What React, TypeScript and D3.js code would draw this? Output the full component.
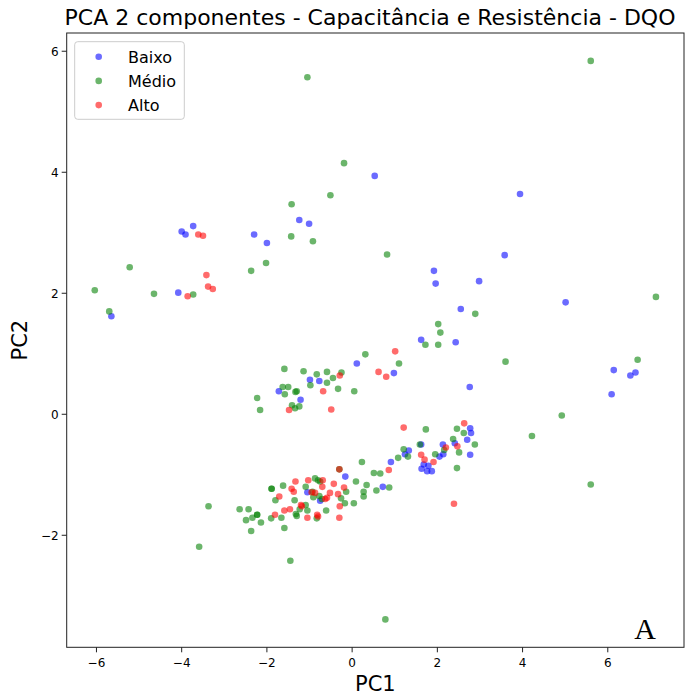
import React from "react";
import * as d3 from "d3";

const categories = ["Baixo", "Médio", "Alto"];
const colors = ["#0000ff", "#008000", "#ff0000"];

const baixo: [number, number][] = [
  [0.53, 3.94], [3.94, 3.64], [-1.24, 3.21], [-1.01, 3.15], [-3.73, 3.11], [-4.0, 3.02], [-3.91, 2.97],
  [-2.3, 2.97], [-2.0, 2.83], [-4.08, 2.01], [-5.65, 1.62], [3.58, 2.63], [1.92, 2.37], [1.96, 2.16],
  [2.98, 2.2], [5.01, 1.85], [2.55, 1.74], [1.62, 1.23], [2.43, 1.19], [0.98, 0.68], [6.14, 0.73],
  [6.53, 0.64], [6.65, 0.69], [6.09, 0.33], [2.76, 0.45], [0.11, 0.84], [-0.99, 0.57], [-0.77, 0.55],
  [-1.72, 0.38], [-1.21, 0.24], [2.77, -0.23], [2.79, -0.31], [2.7, -0.42], [2.41, -0.48], [2.77, -0.67],
  [2.13, -0.5], [2.14, -0.66], [2.05, -0.7], [1.62, -0.5], [1.68, -0.83], [1.79, -0.85], [1.63, -0.9],
  [1.76, -0.94], [1.87, -0.94], [1.24, -0.66], [1.33, -0.6], [-0.16, -1.03], [0.91, -0.79], [0.72, -1.2],
  [-1.05, -1.29], [-0.75, -1.43],
];

const medio: [number, number][] = [
  [-1.05, 5.57], [-0.19, 4.15], [-0.51, 3.62], [-1.42, 3.47], [-1.43, 2.94], [-0.92, 2.86], [5.6, 5.84],
  [-5.22, 2.43], [-2.37, 2.37], [-2.02, 2.5], [-6.04, 2.05], [-4.65, 1.99], [-3.73, 1.98], [-5.7, 1.7],
  [0.82, 2.64], [7.13, 1.94], [2.89, 1.66], [2.02, 1.49], [2.07, 1.35], [1.72, 1.15], [2.02, 1.15],
  [0.31, 0.99], [1.1, 0.84], [3.6, 0.87], [6.7, 0.9], [4.92, -0.02], [4.22, -0.36],
  [-1.59, 0.75], [-1.14, 0.71], [-0.83, 0.66], [-0.59, 0.7], [-0.25, 0.69], [-0.45, 0.6], [-0.59, 0.52],
  [-0.98, 0.48], [-0.33, 0.42], [0.05, 0.38], [-1.63, 0.45], [-1.5, 0.45], [-1.58, 0.33], [-1.33, 0.37],
  [-1.3, 0.38], [-1.41, 0.15], [-1.34, 0.1], [-1.24, 0.13], [-2.16, 0.07], [-2.23, 0.27],
  [1.73, -0.25], [2.46, -0.24], [2.62, -0.31], [2.88, -0.5], [2.37, -0.41], [2.51, -0.63], [2.46, -0.89],
  [2.16, -0.59], [1.95, -0.66], [1.59, -0.5], [1.21, -0.58], [1.31, -0.7], [1.08, -0.72],
  [-0.3, -0.91], [0.23, -0.79], [0.51, -0.97], [0.66, -0.98], [0.09, -1.11], [0.34, -1.17], [0.27, -1.28],
  [0.27, -1.36], [0.87, -1.21], [0.57, -1.26], [-0.14, -1.28], [-0.26, -1.39], [-0.17, -1.47], [0.04, -1.47],
  [-0.87, -1.06], [-0.8, -1.09], [-0.75, -1.11], [-1.62, -1.18], [-1.89, -1.23], [-1.89, -1.23],
  [-1.09, -1.2], [-0.93, -1.28], [-0.77, -1.35], [-0.71, -1.4], [-0.91, -1.37], [-1.8, -1.42],
  [-1.35, -1.42], [-1.09, -1.5], [-1.23, -1.57], [-1.05, -1.59], [-1.32, -1.65], [-1.3, -1.68],
  [-1.9, -1.72], [-1.66, -1.71], [-0.61, -1.59], [-0.83, -1.72], [-2.23, -1.66], [-2.23, -1.66],
  [-2.34, -1.71], [-2.14, -1.79], [-2.49, -1.75], [-2.43, -1.57], [-2.64, -1.57], [-2.37, -1.93],
  [-1.59, -1.88], [-3.37, -1.52], [-3.59, -2.19], [-1.45, -2.42], [5.6, -1.16], [0.78, -3.39],
];

const alto: [number, number][] = [
  [-3.61, 2.97], [-3.5, 2.95], [-3.42, 2.3], [-3.38, 2.11], [-3.27, 2.07], [-3.86, 1.95], [1.01, 1.04],
  [0.62, 0.7], [0.8, 0.62], [-0.29, 0.64], [-0.68, 0.38], [-1.48, 0.07], [-0.49, 0.08], [1.21, -0.22],
  [2.63, -0.15], [2.47, -0.53], [2.2, -0.55], [1.91, -0.79], [1.62, -0.67], [1.7, -0.75], [2.39, -1.48],
  [-0.3, -0.91], [0.86, -0.92], [-0.43, -1.15], [-0.19, -1.21], [-0.33, -1.32], [-0.29, -1.52],
  [-1.33, -1.11], [-1.03, -1.09], [-0.69, -1.09], [-1.42, -1.23], [-1.37, -1.28], [-0.95, -1.29],
  [-0.87, -1.3], [-0.52, -1.3], [-0.63, -1.4], [-0.59, -1.38], [-1.71, -1.36], [-1.2, -1.5], [-1.18, -1.52],
  [-1.46, -1.57], [-1.59, -1.59], [-1.81, -1.66], [-1.05, -1.71], [-0.82, -1.66], [-0.8, -1.69],
  [-0.3, -1.71], [-0.7, -1.2],
];

const series = [baixo, medio, alto];
const xTicks = [-6, -4, -2, 0, 2, 4, 6];
const yTicks = [-2, 0, 2, 4, 6];

const W = 686;
const H = 697;
const left = 66.7;
const right = 684;
const top = 33;
const bottom = 647.3;
const font = "'DejaVu Sans', sans-serif";

export default function App() {
  const all = series.flat();
  const xExt = d3.extent(all, (d) => d[0]) as [number, number];
  const yExt = d3.extent(all, (d) => d[1]) as [number, number];
  const xm = (xExt[1] - xExt[0]) * 0.05;
  const ym = (yExt[1] - yExt[0]) * 0.05;
  const x = d3.scaleLinear().domain([xExt[0] - xm, xExt[1] + xm]).range([left, right]);
  const y = d3.scaleLinear().domain([yExt[0] - ym, yExt[1] + ym]).range([bottom, top]);
  const fmt = (v: number) => (v < 0 ? "\u2212" + Math.abs(v) : String(v));
  const cx = (left + right) / 2;
  const cy = (top + bottom) / 2;

  return (
    <svg width={W} height={H} style={{ position: "absolute", left: 0, top: 0, background: "#fff" }} fontFamily={font}>
      <rect x={0} y={0} width={W} height={H} fill="#fff" />
      {series.map((pts, si) => (
        <g key={categories[si]}>
          {pts.map((p, i) => (
            <circle key={i} cx={x(p[0])} cy={y(p[1])} r={3.3} fill={colors[si]} fillOpacity={0.58} />
          ))}
        </g>
      ))}
      <rect x={left} y={top} width={right - left} height={bottom - top} fill="none" stroke="#222" strokeWidth={1} />
      {xTicks.map((t) => (
        <g key={"x" + t}>
          <line x1={x(t)} x2={x(t)} y1={bottom} y2={bottom + 5} stroke="#222" strokeWidth={1} />
          <text x={x(t)} y={bottom + 20} fontSize={12} textAnchor="middle" fill="#000">{fmt(t)}</text>
        </g>
      ))}
      {yTicks.map((t) => (
        <g key={"y" + t}>
          <line x1={left - 5} x2={left} y1={y(t)} y2={y(t)} stroke="#222" strokeWidth={1} />
          <text x={left - 8} y={y(t) + 4.5} fontSize={12} textAnchor="end" fill="#000">{fmt(t)}</text>
        </g>
      ))}
      <text x={370} y={25} fontSize={22} textAnchor="middle" fill="#000">
        PCA 2 componentes - Capacitância e Resistência - DQO
      </text>
      <text x={cx} y={691} fontSize={21} textAnchor="middle" fill="#000">PC1</text>
      <text transform={`translate(27,${cy}) rotate(-90)`} fontSize={21} textAnchor="middle" fill="#000">PC2</text>
      <g>
        <rect x={74.7} y={41.7} width={109.6} height={77.6} rx={3} fill="#fff" fillOpacity={0.8} stroke="#ccc" strokeWidth={1} />
        {categories.map((c, i) => (
          <g key={c}>
            <circle cx={98.7} cy={56.7 + i * 24.2} r={3.3} fill={colors[i]} fillOpacity={0.58} />
            <text x={128} y={56.7 + i * 24.2 + 5.8} fontSize={16} fill="#000">{c}</text>
          </g>
        ))}
      </g>
      <text x={645} y={639} fontSize={30} textAnchor="middle" fontFamily="'Liberation Serif', serif" fill="#000">A</text>
    </svg>
  );
}
